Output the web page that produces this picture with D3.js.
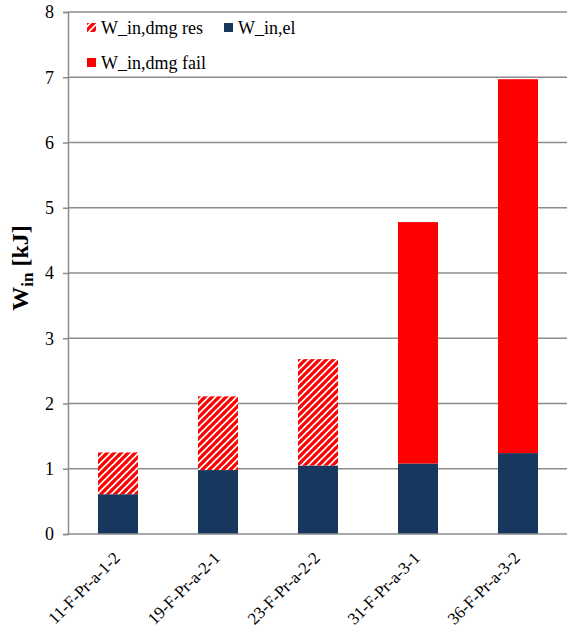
<!DOCTYPE html>
<html>
<head>
<meta charset="utf-8">
<script src="https://cdn.jsdelivr.net/npm/d3@7"></script>
<style>
  body { margin: 0; background: #fff; }
  svg { display: block; }
</style>
</head>
<body>
<svg id="chart" width="567" height="628"></svg>
<script>
// Specimens and energy components (kJ)
const categories = ["11-F-Pr-a-1-2", "19-F-Pr-a-2-1", "23-F-Pr-a-2-2", "31-F-Pr-a-3-1", "36-F-Pr-a-3-2"];
const wEl      = [0.61, 0.98, 1.05, 1.08, 1.24];
const wDmgRes  = [0.64, 1.13, 1.63, 0, 0];
const wDmgFail = [0, 0, 0, 3.70, 5.73];
const yTicks   = [0, 1, 2, 3, 4, 5, 6, 7, 8];
const seriesNames = ["W_in,el", "W_in,dmg res", "W_in,dmg fail"];

const NAVY = "#17375e", RED = "#ff0000", GRID = "#8c8c8c";
const FONT = "Liberation Serif";

const svg = d3.select("#chart");
const plotLeft = 68, plotRight = 568, plotTop = 12, plotBottom = 534;

const x = d3.scaleBand().domain(categories).range([plotLeft, plotRight]).paddingInner(0.6).paddingOuter(0.3);
const y = d3.scaleLinear().domain([0, 8]).range([plotBottom, plotTop]);

// Diagonal hatch fill for the residual damage component
const defs = svg.append("defs");
const P = 7;
const pat = defs.append("pattern").attr("id", "hatch")
  .attr("patternUnits", "userSpaceOnUse").attr("width", P).attr("height", P);
pat.append("rect").attr("width", P).attr("height", P).attr("fill", "#fff");
pat.append("path").attr("d", `M-1,${P + 1} L${P + 1},-1 M-1,1 L1,-1 M${P - 1},${P + 1} L${P + 1},${P - 1}`)
  .attr("stroke", RED).attr("stroke-width", 3.2);

// Horizontal gridlines
svg.append("g").selectAll("line").data(yTicks.filter(d => d > 0)).join("line")
  .attr("x1", plotLeft).attr("x2", 567)
  .attr("y1", d => y(d)).attr("y2", d => y(d))
  .attr("stroke", GRID).attr("stroke-width", 1.5);

// Stacked bars
const rows = categories.map((c, i) => ({ cat: c, el: wEl[i], res: wDmgRes[i], fail: wDmgFail[i] }));
const stack = d3.stack().keys(["el", "res", "fail"])(rows);
const fills = { el: NAVY, res: "url(#hatch)", fail: RED };
svg.append("g").selectAll("g").data(stack).join("g")
  .attr("fill", s => fills[s.key])
  .selectAll("rect").data(s => s.filter(d => d[1] - d[0] > 0)).join("rect")
  .attr("x", d => x(d.data.cat))
  .attr("width", x.bandwidth())
  .attr("y", d => y(d[1]))
  .attr("height", d => y(d[0]) - y(d[1]));

// Y axis
const yAxis = svg.append("g").attr("transform", `translate(${plotLeft},0)`)
  .call(d3.axisLeft(y).tickValues(yTicks).tickSize(5).tickPadding(9).tickFormat(d3.format("d")));
yAxis.attr("font-family", FONT).attr("font-size", 18);
yAxis.select(".domain").attr("stroke", GRID).attr("stroke-width", 1.5);
yAxis.selectAll(".tick line").attr("stroke", GRID).attr("stroke-width", 1.5);
yAxis.selectAll("text").attr("fill", "#000");

// X axis
const xAxis = svg.append("g").attr("transform", `translate(0,${plotBottom})`)
  .call(d3.axisBottom(x).tickSize(0).tickFormat(() => ""));
xAxis.select(".domain").attr("stroke", GRID).attr("stroke-width", 1.5)
  .attr("d", `M${plotLeft},0H567`);

// Category labels, rotated 45 degrees and ending under each bar
svg.append("g").selectAll("text").data(categories).join("text")
  .attr("transform", d => `translate(${x(d) + x.bandwidth() / 2 + 3},${plotBottom + 25}) rotate(-45)`)
  .attr("text-anchor", "end")
  .attr("font-family", FONT)
  .attr("font-size", 17)
  .text(d => d);

// Y axis title
const title = svg.append("text")
  .attr("transform", "translate(28,268) rotate(-90)")
  .attr("text-anchor", "middle")
  .attr("font-family", FONT)
  .attr("font-size", 24).attr("font-weight", "bold");
title.append("tspan").text("W");
title.append("tspan").attr("font-size", 17).attr("dy", 5).text("in");
title.append("tspan").attr("dy", -5).text(" [kJ]");

// Legend
const legendItems = [
  { name: seriesNames[1], fill: "url(#hatch)", x: 87, y: 23 },
  { name: seriesNames[0], fill: NAVY, x: 224, y: 23 },
  { name: seriesNames[2], fill: RED, x: 87, y: 58 }
];
const lg = svg.append("g").selectAll("g").data(legendItems).join("g")
  .attr("transform", d => `translate(${d.x},${d.y})`);
lg.append("rect").attr("width", 9).attr("height", 9).attr("fill", d => d.fill);
lg.append("text").attr("x", 14).attr("y", 11).attr("font-family", FONT)
  .attr("font-size", 18).text(d => d.name);
</script>
</body>
</html>
